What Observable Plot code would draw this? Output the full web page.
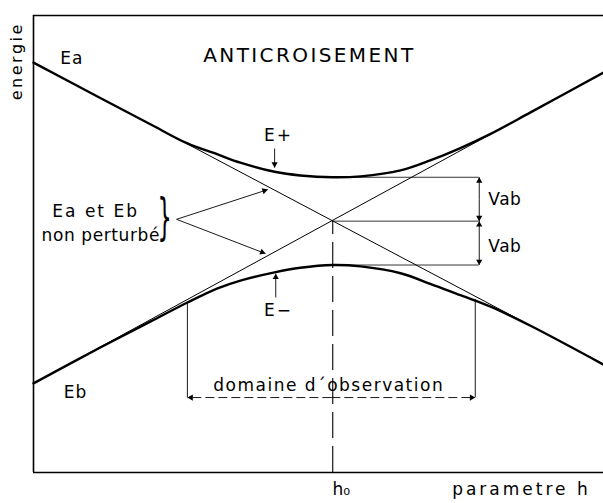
<!DOCTYPE html>
<html><head><meta charset="utf-8">
<script src="https://cdn.jsdelivr.net/npm/d3@7"></script>
<script src="https://cdn.jsdelivr.net/npm/@observablehq/plot@0.6"></script>
<style>body{margin:0;background:#fff} #chart{width:603px;height:503px}</style>
</head><body><div id="chart"></div>
<script>
// adiabatic curves (h: parameter, e: energy, arbitrary units)
const h      = [0,    1.18, 2.05, 2.70, 3.23, 3.63, 4.23, 4.68, 5.25, 5.74, 6.44, 6.96, 7.49, 8.02, 8.72, 10];
const ePlus  = [8.97, 8.19, 7.62, 7.20, 6.96, 6.78, 6.58, 6.50, 6.46, 6.48, 6.61, 6.83, 7.10, 7.41, 7.88, 8.75];
const eMinus = [1.95, 2.74, 3.30, 3.72, 4.03, 4.20, 4.38, 4.48, 4.54, 4.51, 4.36, 4.13, 3.88, 3.63, 3.21, 2.36];
// unperturbed (diabatic) levels
const hEnds = [0, 10];
const ea = [8.97, 2.37];
const eb = [1.95, 8.75];
// crossing and coupling
const h0 = 5.25;
const e0 = 5.5;
const vab = 0.96;
const vabX = 7.82;
// observation domain
const obsRange = [2.70, 7.75];
const obsLevel = 1.64;
const obsTop = [3.72, 3.79];

const W = 603, H = 503, mL = 33, mR = 0, mT = 15, mB = 31;
const sx = d3.scaleLinear([0, 10], [mL, W - mR]);
const sy = d3.scaleLinear([0, 10], [H - mB, mT]);

const curve = (ys) => h.map((v, i) => ({h: v, e: ys[i]}));
const diab = (ys) => hEnds.map((v, i) => ({h: v, e: ys[i]}));

const arrows = [
  {x1: 4.23, y1: 7.09, x2: 4.23, y2: 6.67},
  {x1: 4.25, y1: 3.83, x2: 4.25, y2: 4.35},
  {x1: 2.51, y1: 5.54, x2: 4.11, y2: 6.19},
  {x1: 2.51, y1: 5.54, x2: 4.07, y2: 4.79},
  {x1: vabX, y1: e0 + vab / 2, x2: vabX, y2: e0 + vab},
  {x1: vabX, y1: e0 + vab / 2, x2: vabX, y2: e0},
  {x1: vabX, y1: e0 - vab / 2, x2: vabX, y2: e0},
  {x1: vabX, y1: e0 - vab / 2, x2: vabX, y2: e0 - vab},
  {x1: (obsRange[0] + obsRange[1]) / 2, y1: obsLevel, x2: obsRange[0], y2: obsLevel},
  {x1: (obsRange[0] + obsRange[1]) / 2, y1: obsLevel, x2: obsRange[1], y2: obsLevel}
];
const heads = arrows.map(a => {
  const X1 = sx(a.x1), Y1 = sy(a.y1), X2 = sx(a.x2), Y2 = sy(a.y2);
  const L = Math.hypot(X2 - X1, Y2 - Y1), ux = (X2 - X1) / L, uy = (Y2 - Y1) / L;
  return {x: sx.invert(X2 - ux * 3.6), y: sy.invert(Y2 - uy * 3.6), angle: Math.atan2(ux, -uy) * 180 / Math.PI};
});
const solidArrows = arrows.filter((a, i) => i < 8);
const obsArrows = arrows.filter((a, i) => i >= 8);
const levels = [e0 + vab, e0, e0 - vab];

const F = "DejaVu Sans";
const T = (s, x, y, o = {}) => Plot.text([s], {x: () => x, y: () => y, text: d => d, fontSize: 17, fontFamily: F, fill: "#000", ...o});

const chart = Plot.plot({
  width: W, height: H,
  marginLeft: mL, marginRight: mR, marginTop: mT, marginBottom: mB,
  x: {domain: [0, 10], axis: null},
  y: {domain: [0, 10], axis: null},
  style: {background: "#fff", color: "#000"},
  marks: [
    Plot.ruleX([0], {stroke: "#000", strokeWidth: 1.6}),
    Plot.ruleY([0, 10], {stroke: "#000", strokeWidth: 1.6}),
    // h0 dashed line
    Plot.ruleX([h0], {y1: 0, y2: e0, stroke: "#000", strokeWidth: 1.1, strokeDasharray: "26,8"}),
    // Vab level lines
    Plot.ruleY(levels, {x1: h0, x2: vabX, stroke: "#000", strokeWidth: 0.8}),
    // observation domain verticals
    Plot.ruleX(obsRange, {y1: obsLevel, y2: (d, i) => obsTop[i], stroke: "#000", strokeWidth: 0.9}),
    // diabatic lines (thin)
    Plot.line(diab(ea), {x: "h", y: "e", stroke: "#000", strokeWidth: 1}),
    Plot.line(diab(eb), {x: "h", y: "e", stroke: "#000", strokeWidth: 1}),
    // adiabatic curves (thick)
    Plot.line(curve(ePlus), {x: "h", y: "e", curve: "catmull-rom", stroke: "#000", strokeWidth: 2.4}),
    Plot.line(curve(eMinus), {x: "h", y: "e", curve: "catmull-rom", stroke: "#000", strokeWidth: 2.4}),
    // arrows
    Plot.link(solidArrows, {x1: "x1", y1: "y1", x2: "x2", y2: "y2", stroke: "#000", strokeWidth: 0.9}),
    Plot.link(obsArrows, {x1: "x1", y1: "y1", x2: "x2", y2: "y2", stroke: "#000", strokeWidth: 0.9, strokeDasharray: "9,4"}),
    Plot.dot(heads, {x: "x", y: "y", rotate: "angle", symbol: "triangle", r: 2.3, fill: "#000", stroke: "none"}),
    // labels
    T("energie", -0.30, 9.0, {rotate: -90, fontSize: 16}),
    T("Ea", 0.47, 9.05, {textAnchor: "start"}),
    T("Eb", 0.53, 1.76, {textAnchor: "start"}),
    T("ANTICROISEMENT", 4.84, 9.12, {fontSize: 20}),
    T("E+", 4.30, 7.37),
    T("E\u2212", 4.30, 3.55),
    T("Ea et Eb", 1.09, 5.71),
    T("non perturbé", 1.18, 5.19),
    T("}", 2.30, 5.56, {fontSize: 50, fontFamily: "DejaVu Sans"}),
    T("Vab", 7.98, 5.97, {textAnchor: "start"}),
    T("Vab", 7.98, 4.95, {textAnchor: "start"}),
    T("domaine d\u00b4observation", 5.18, 1.90),
    T("h\u2080", 5.40, -0.37),
    T("parametre h", 8.56, -0.37)
  ]
});
document.getElementById("chart").append(chart);

const spacing = {"ANTICROISEMENT": 2.4, "energie": 2.5, "parametre h": 3, "domaine d\u00b4observation": 1.5, "Ea et Eb": 2, "non perturbé": 0.6, "Ea": 1, "Eb": 1, "Vab": 0.5, "E+": 2, "E\u2212": 2};
d3.select(chart).selectAll("text").each(function () {
  const t = this.textContent;
  if (spacing[t] != null) this.setAttribute("letter-spacing", spacing[t]);
  if (t === "}") {
    const tr = this.getAttribute("transform");
    if (tr) this.setAttribute("transform", tr + " scale(0.45,1)");
    else {
      const x = this.getAttribute("x") || 0, y = this.getAttribute("y") || 0;
      this.removeAttribute("x"); this.removeAttribute("y");
      this.setAttribute("transform", `translate(${x},${y}) scale(0.45,1)`);
    }
  }
});
</script>
</body></html>
